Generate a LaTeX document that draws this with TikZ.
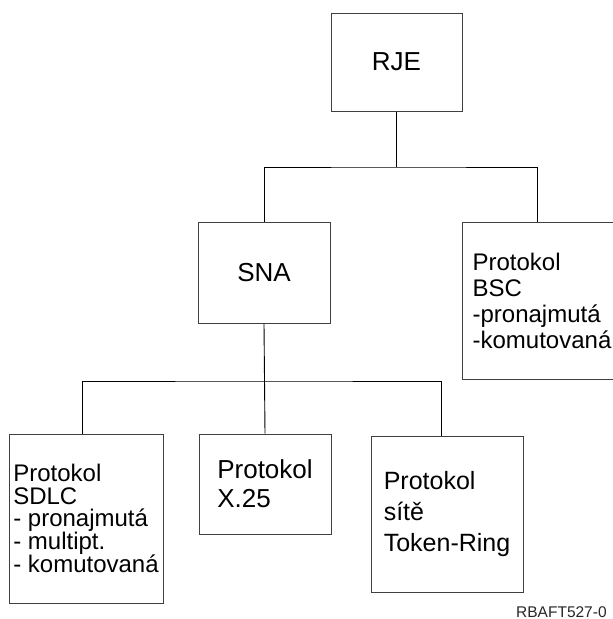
\documentclass[tikz,border=0pt]{standalone}
\usepackage{fontspec}
\setmainfont{Liberation Sans}
\tikzset{
	box/.style={draw=black!75, line width=1pt, align=left, inner sep=0pt},
	wire/.style={draw=black, line width=0.9pt}
}
\begin{document}
	\begin{tikzpicture}[x=1pt, y=-1pt]
	   \useasboundingbox (0, 0) rectangle (613, 619);
	   % top of the tree
	   \node [box, minimum width=131, minimum height=98, font=\fontsize{26}{30}\selectfont] (rje) at (396.5, 62) {RJE};
	   \node [box, minimum width=132, minimum height=101, font=\fontsize{26}{30}\selectfont] (sna) at (264, 272.5) {SNA};
	   \node [box, minimum width=160, minimum height=157, font=\fontsize{24}{26}\selectfont] (bsc) at (542, 300.5) {Protokol\\BSC\\-pronajmutá\\-komutovaná};
	   % the three protocols under sna
	   \node [box, minimum width=154, minimum height=169, font=\fontsize{24}{22.5}\selectfont] (sdlc) at (86, 518.5) {Protokol\\SDLC\\- pronajmutá\\- multipt.\\- komutovaná};
	   \node [box, minimum width=132, minimum height=100, font=\fontsize{26}{29}\selectfont] (xdvacetpet) at (265, 484) {Protokol\\X.25};
	   \node [box, minimum width=152, minimum height=156, font=\fontsize{25}{31}\selectfont] (token) at (447, 514) {Protokol\\sítě\\Token-Ring};
	   \node [anchor=base west, inner sep=0pt, font=\fontsize{15.5}{18}\selectfont, text=black!85] (kod) at (516, 617) {RBAFT527-0};
	   % where the wires meet
	   \coordinate (rjebar) at (396.5, 167);
	   \coordinate (bscin) at (537, 222);
	   \coordinate (snabar) at (266, 381);
	   \coordinate (sdlcin) at (82, 434);
	   \coordinate (tokenin) at (441, 436);
	   \draw [wire] (rje.south) -- (rjebar);
	   \draw [wire] (sna.north) |- (rjebar) -| (bscin);
	   \draw [wire] (sna.south) -- (xdvacetpet.north);
	   \draw [wire] (sdlcin) |- (snabar) -| (tokenin);
	\end{tikzpicture}
\end{document}
